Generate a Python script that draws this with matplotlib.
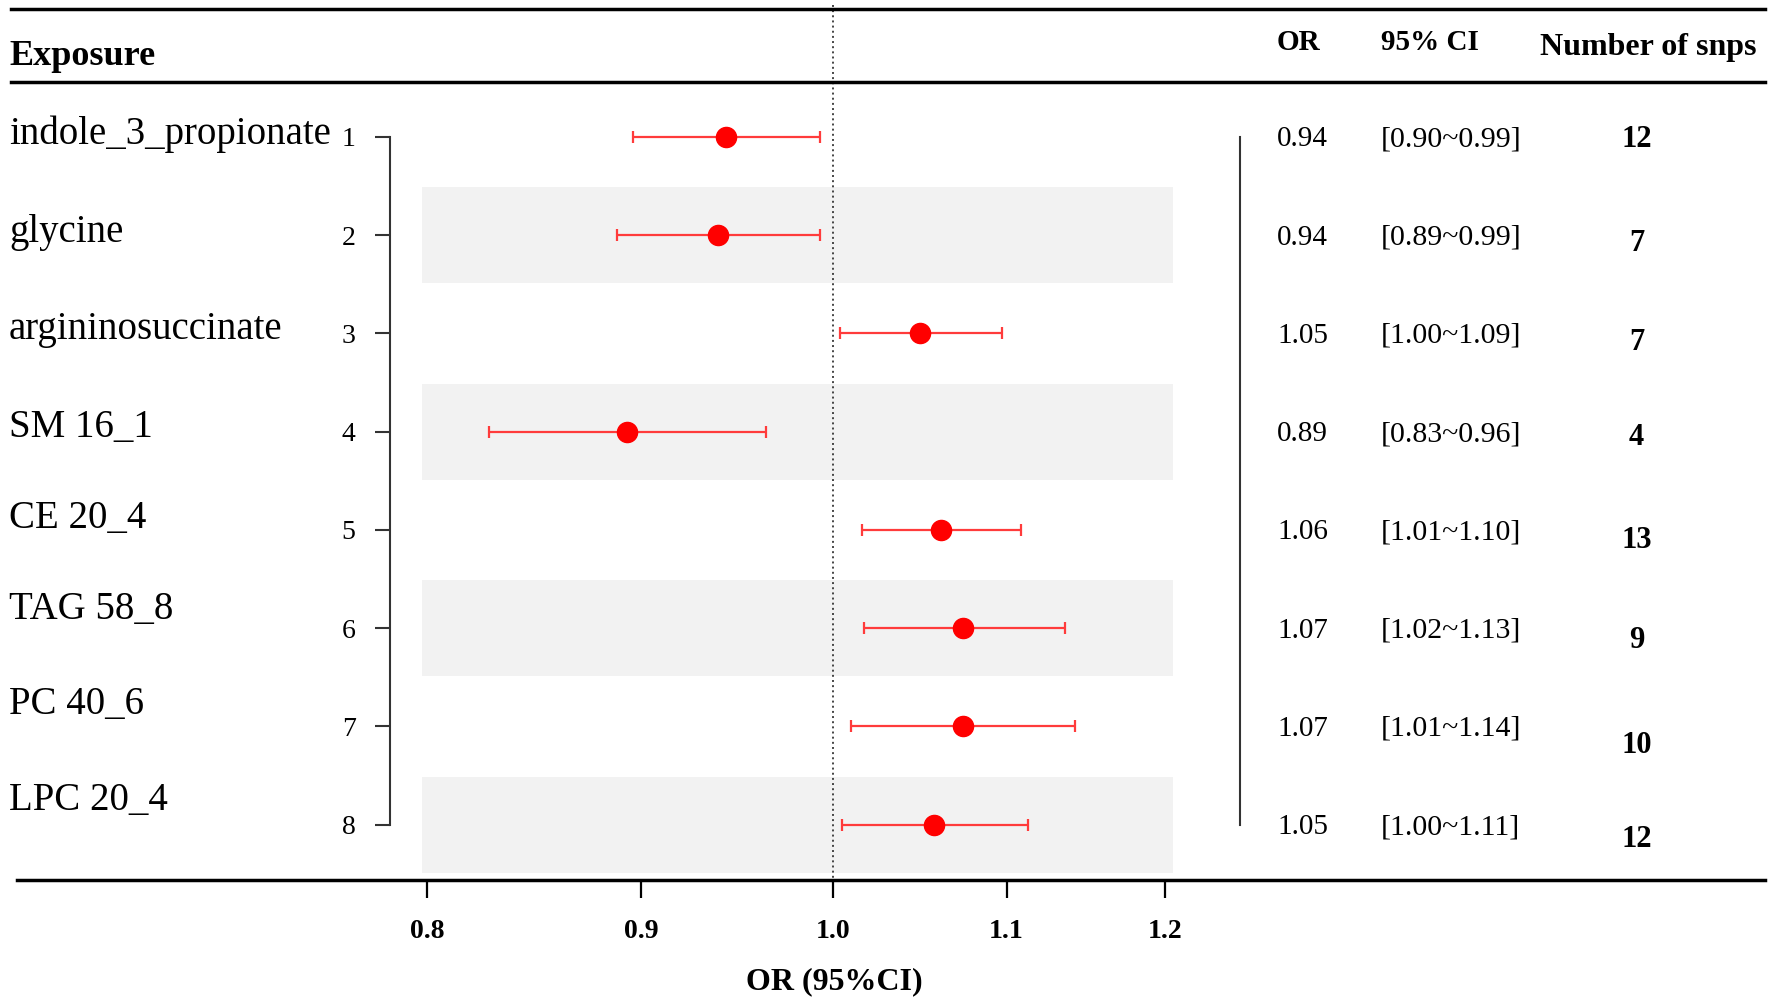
import matplotlib
matplotlib.use('Agg')
import matplotlib.pyplot as plt
import matplotlib.transforms as mtransforms
from matplotlib.lines import Line2D
from matplotlib.ticker import NullLocator, NullFormatter

plt.rcParams['font.family'] = ['Liberation Serif', 'DejaVu Serif']

# --- data
exposures = ['indole_3_propionate', 'glycine', 'argininosuccinate', 'SM 16_1',
             'CE 20_4', 'TAG 58_8', 'PC 40_6', 'LPC 20_4']
or_est = [0.943, 0.939, 1.049, 0.893, 1.061, 1.074, 1.074, 1.057]
ci_low = [0.896, 0.888, 1.004, 0.828, 1.016, 1.017, 1.010, 1.005]
ci_high = [0.993, 0.993, 1.097, 0.964, 1.109, 1.136, 1.142, 1.113]
or_text = ['0.94', '0.94', '1.05', '0.89', '1.06', '1.07', '1.07', '1.05']
ci_text = ['[0.90~0.99]', '[0.89~0.99]', '[1.00~1.09]', '[0.83~0.96]',
           '[1.01~1.10]', '[1.02~1.13]', '[1.01~1.14]', '[1.00~1.11]']
n_snps = [12, 7, 7, 4, 13, 9, 10, 12]
xticks = [0.8, 0.9, 1.0, 1.1, 1.2]

rows = list(range(1, len(exposures) + 1))

# small vertical shifts of the text columns (layout only)
label_dy = [-0.03, -0.03, -0.04, -0.04, -0.12, -0.19, -0.22, -0.25]
n_dy = [0.03, 0.08, 0.09, 0.06, 0.11, 0.13, 0.19, 0.15]

fig = plt.figure(figsize=(17.72, 10.06), dpi=100)
ax = fig.add_axes([0.2383, 0.125, 0.4237, 0.793])
ax.set_xscale('log')
ax.set_xlim(0.798, 1.2054)
ax.set_ylim(8.565, 0.446)

#--bandas grises
for r in rows:
    if r % 2 == 0:
        ax.axhspan(r - 0.49, r + 0.49, color='#f2f2f2', lw=0, zorder=0)

xerr = [[o - l for o, l in zip(or_est, ci_low)],
        [h - o for o, h in zip(or_est, ci_high)]]
ax.errorbar(or_est, rows, xerr=xerr, fmt='o', color='#ff0000', ecolor='#ff3b3b',
            elinewidth=1.6, capsize=4.5, capthick=1.6, markersize=14.5, zorder=3)

ax.plot([1.0, 1.0], [-0.34, 8.565], ls=':', color='#444444', lw=1.4,
        clip_on=False, zorder=2)

#--ejes
for s in ['top', 'right', 'bottom']:
    ax.spines[s].set_visible(False)
ax.spines['left'].set_position(('outward', 23))
ax.spines['left'].set_bounds(1, 8)
ax.spines['left'].set_linewidth(1.5)
ax.spines['left'].set_color('#333333')
ax.set_yticks(rows)
ax.set_yticklabels([str(r) for r in rows])
ax.tick_params(axis='y', length=11, width=1.5, color='#333333', pad=14,
               labelsize=20)

ax.set_xticks(xticks)
ax.xaxis.set_minor_locator(NullLocator())
ax.xaxis.set_minor_formatter(NullFormatter())
ax.set_xticklabels(['%.1f' % t for t in xticks], fontweight='bold')
ax.tick_params(axis='x', length=13, width=1.6, pad=15, labelsize=20)
fig.text(0.4707, 0.024, 'OR (95%CI)', ha='center', va='center',
         fontsize=23, fontweight='bold')

#--lineas horizontales de la tabla
fig.add_artist(Line2D([0.006, 0.996], [0.991, 0.991], color='black', lw=2.5))
fig.add_artist(Line2D([0.006, 0.996], [0.918, 0.918], color='black', lw=2.5))
fig.add_artist(Line2D([0.0096, 0.996], [0.125, 0.125], color='black', lw=2.5))

trans = mtransforms.blended_transform_factory(fig.transFigure, ax.transData)
fig.add_artist(Line2D([0.6996, 0.6996], [1, 8], transform=trans,
                      color='#333333', lw=1.5))

#--encabezados
fig.text(0.0051, 0.944, 'Exposure', ha='left', va='center', fontsize=26,
         fontweight='bold')
fig.text(0.7207, 0.958, 'OR', ha='left', va='center', fontsize=21,
         fontweight='bold')
fig.text(0.7793, 0.958, '95% CI', ha='left', va='center', fontsize=21,
         fontweight='bold')
fig.text(0.930, 0.953, 'Number of snps', ha='center', va='center', fontsize=23,
         fontweight='bold')

#--columnas de texto
for i, r in enumerate(rows):
    ax.text(0.0051, r + label_dy[i], exposures[i], transform=trans,
            ha='left', va='center', fontsize=28)
    ax.text(0.7207, r + 0.025, or_text[i], transform=trans, ha='left',
            va='center', fontsize=21)
    ax.text(0.7793, r + 0.025, ci_text[i], transform=trans, ha='left',
            va='center', fontsize=21.5)
    ax.text(0.9235, r + n_dy[i], str(n_snps[i]), transform=trans,
            ha='center', va='center', fontsize=22, fontweight='bold')

fig.savefig('out.png', dpi=100)
